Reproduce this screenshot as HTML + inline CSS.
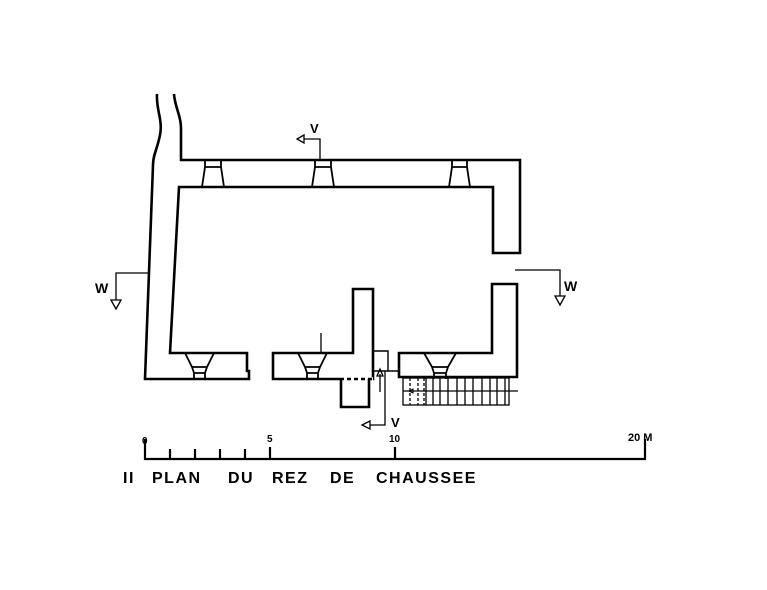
<!DOCTYPE html>
<html><head><style>body{margin:0;background:#fff}svg{display:block}</style></head>
<body>
<svg width="767" height="590" viewBox="0 0 767 590" xmlns="http://www.w3.org/2000/svg" fill="none" stroke="#000" stroke-width="2.6" stroke-linejoin="miter">
<path d="M157 94 C156 110 163 120 160 135 C157 150 153 155 153 165 L145 379 L249 379 L249 371 L247 371 L247 353 L170 353 L179 187 L493 187 L493 253 L520 253 L520 160 L181 160 L181 128 C181 115 175 108 174 94"/>
<path d="M273 353 L273 379 L373 379 L373 370 L373 289 L353 289 L353 353 Z"/>
<line x1="340" y1="379" x2="373" y2="379" stroke="#fff" stroke-width="3.5"/>
<line x1="340" y1="379" x2="373" y2="379" stroke-dasharray="4 3"/>
<path d="M341 379 L341 407 L369 407 L369 379"/>
<line x1="321" y1="333" x2="321" y2="353" stroke-width="1.3"/>
<path d="M373 351 L388 351 L388 371 M373 371 L399 371" stroke-width="1.4"/>
<path d="M399 377 L399 353 L492 353 L492 284 L517 284 L517 377 Z"/>
<g stroke-width="1.3">
<rect x="403" y="378" width="106" height="27"/>
<line x1="403" y1="391" x2="518" y2="391"/>
<g stroke-dasharray="3 2"><line x1="410" y1="378" x2="410" y2="405"/><line x1="418" y1="378" x2="418" y2="405"/><line x1="424" y1="378" x2="424" y2="405"/></g>
<path d="M426 378V405M433 378V405M440 378V405M448 378V405M457 378V405M465 378V405M473 378V405M482 378V405M490 378V405M497 378V405M505 378V405"/>
<path d="M409 391 l4 -2 v4 z" stroke-width="1"/>
</g>
<g stroke-width="1.8">
<path d="M185 353 L192 367 L207 367 L214 353 M192 367 L194 373 L205 373 L207 367 M194 373 L194 379 M205 373 L205 379"/>
<path d="M298 353 L305 367 L320 367 L327 353 M305 367 L307 373 L318 373 L320 367 M307 373 L307 379 M318 373 L318 379"/>
<path d="M424 353 L432 367 L448 367 L456 353 M432 367 L434 373 L446 373 L448 367 M434 373 L434 379 M446 373 L446 379"/>
</g>
<g stroke-width="1.8">
<path d="M205 160 L205 167 L221 167 L221 160 M205 167 L202 187 M221 167 L224 187"/>
<path d="M315 160 L315 167 L331 167 L331 160 M315 167 L312 187 M331 167 L334 187"/>
<path d="M452 160 L452 167 L467 167 L467 160 M452 167 L449 187 M467 167 L470 187"/>
</g>
<g stroke-width="1.3">
<path d="M320 160 L320 139 L304 139"/><path d="M304 135 L297 139 L304 143 Z"/>
<path d="M385 371 L385 425 L370 425"/><path d="M370 421 L362 425 L370 429 Z"/>
<path d="M380 392 L380 374"/><path d="M377 376 L380 369 L383 376 Z"/>
<path d="M148 273 L116 273 L116 300"/><path d="M111 300 L116 309 L121 300 Z"/>
<path d="M515 270 L560 270 L560 296"/><path d="M555 296 L560 305 L565 296 Z"/>
</g>
<path d="M145 439 L145 459 L645 459 L645 439" stroke-width="2.2"/>
<path d="M170 459V449M195 459V449M220 459V449M245 459V449M270 459V447M395 459V447" stroke-width="2.2"/>
<g fill="#000" stroke="none" font-family="Liberation Sans, sans-serif" font-weight="bold">
<text x="142" y="444" font-size="10">0</text>
<text x="267" y="442" font-size="10">5</text>
<text x="389" y="442" font-size="10">10</text>
<text x="628" y="441" font-size="11">20 M</text>
<text x="310" y="133" font-size="13">V</text>
<text x="391" y="427" font-size="13">V</text>
<text x="95" y="293" font-size="14">W</text>
<text x="564" y="291" font-size="14">W</text>
<g font-size="16" letter-spacing="1.5">
<text x="123" y="483">II</text>
<text x="152" y="483">PLAN</text>
<text x="228" y="483">DU</text>
<text x="272" y="483">REZ</text>
<text x="330" y="483">DE</text>
<text x="376" y="483">CHAUSSEE</text>
</g>
</g>
</svg>
</body></html>
